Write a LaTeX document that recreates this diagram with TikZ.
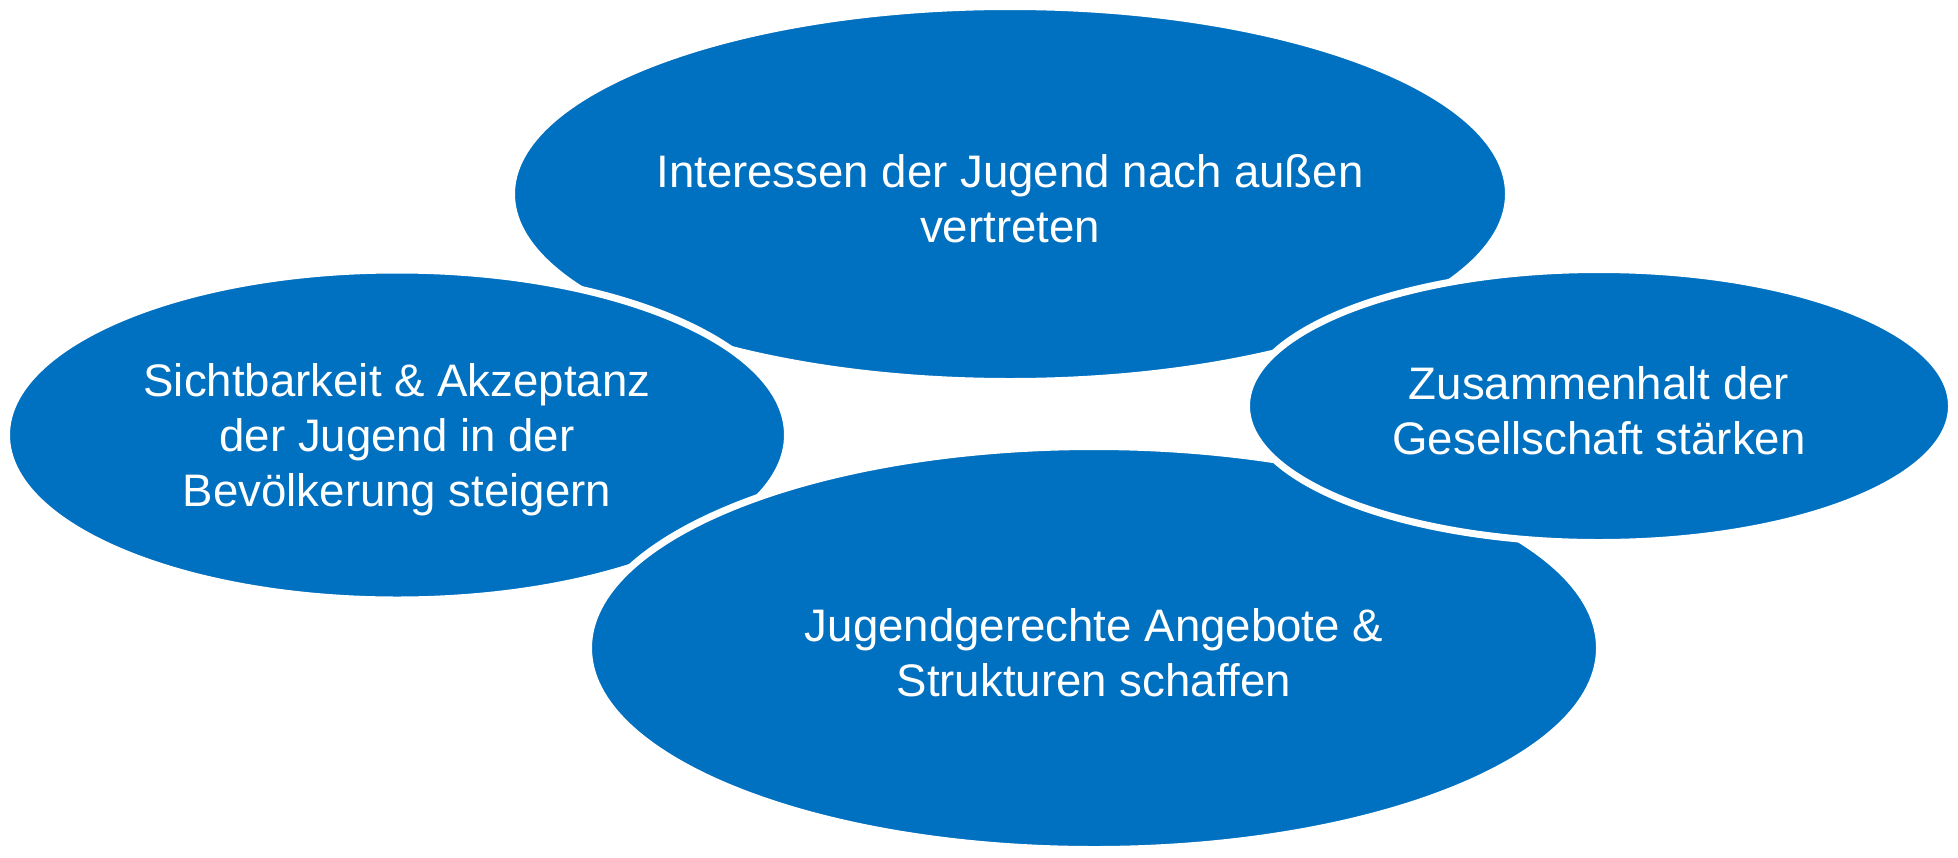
\documentclass[tikz,border=0pt]{standalone}
\usepackage{fontspec}
\setmainfont{Liberation Sans}
\usetikzlibrary{shapes.geometric}
\definecolor{goalblue}{HTML}{0070C0}

\begin{document}
\begin{tikzpicture}[x=0.5pt,y=-0.5pt,
    goal/.style={ellipse,fill=goalblue,draw=white,line width=3.5pt,inner sep=0pt},
    goaltext/.style={text=white,align=center,inner sep=0pt,yshift=-2.5pt,
        font=\fontsize{22.8}{27.5}\selectfont}]
    \useasboundingbox (0,0) rectangle (1958,857);
    \node[goal,minimum width=498.5pt,minimum height=187.5pt] (aussen) at (1010,194) {};
    \node[goaltext] (aussentext) at (aussen) {Interessen der Jugend nach außen\\vertreten};
    \node[goal,minimum width=390.5pt,minimum height=165pt] (sicht) at (397,435) {};
    \node[goaltext] (sichttext) at (sicht) {Sichtbarkeit \& Akzeptanz\\der Jugend in der\\Bevölkerung steigern};
    \node[goal,minimum width=505.5pt,minimum height=201.5pt] (angebot) at (1094,648) {};
    \node[goaltext] (angebottext) at (angebot) {Jugendgerechte Angebote \&\\Strukturen schaffen};
    \node[goal,minimum width=352.5pt,minimum height=136.5pt] (zusammen) at (1599,406) {};
    \node[goaltext] (zusammentext) at (zusammen) {Zusammenhalt der\\Gesellschaft stärken};
\end{tikzpicture}
\end{document}
